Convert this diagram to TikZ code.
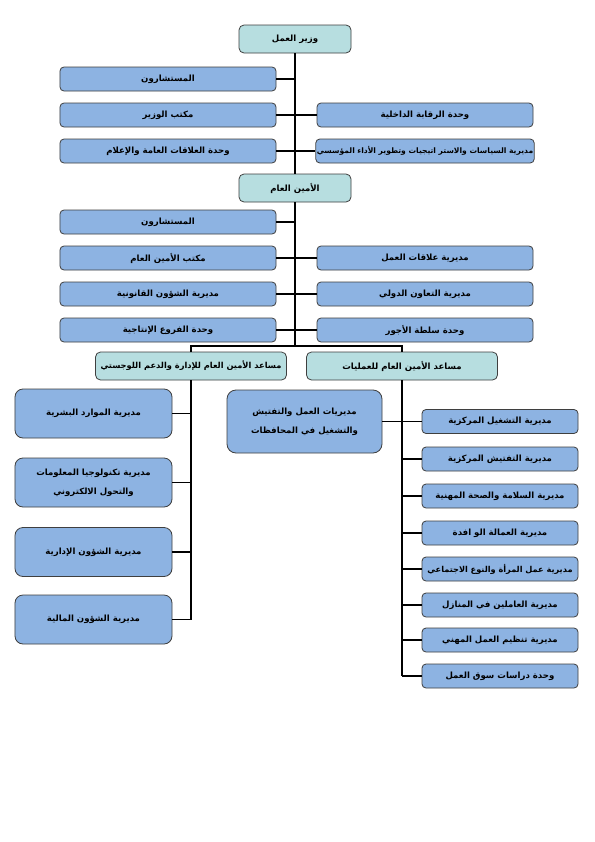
\documentclass[tikz,border=0pt]{standalone}
\usepackage{fontspec}
\newfontfamily\arabicfont[Script=Arabic]{DejaVu Sans}
\TeXXeTstate=1
\newcommand{\AR}[1]{\beginR #1\endR}
\definecolor{tealfill}{HTML}{B7DEE0}
\definecolor{bluefill}{HTML}{8DB3E2}
\definecolor{edgegray}{HTML}{3F3F3F}
\tikzset{
  basebox/.style={draw=edgegray, line width=0.8bp, inner sep=1bp, align=center,
    font=\arabicfont\bfseries\fontsize{8.6}{19}\selectfont},
  headbox/.style={basebox, fill=tealfill, rounded corners=5bp, minimum width=112bp, minimum height=28bp},
  asbox/.style={basebox, fill=tealfill, rounded corners=5bp, minimum width=191bp, minimum height=28bp},
  unitbox/.style={basebox, fill=bluefill, rounded corners=4bp, minimum width=216bp, minimum height=24bp},
  smallbox/.style={basebox, fill=bluefill, rounded corners=4bp, minimum width=156bp, minimum height=24bp},
  tallbox/.style={basebox, fill=bluefill, rounded corners=8bp, minimum width=157bp, minimum height=49bp},
  link/.style={draw=black, line width=1.6bp}
}
\begin{document}
\begin{tikzpicture}[x=1bp,y=-1bp]
\useasboundingbox (0,0) rectangle (595,842);
\fill[white] (0,0) rectangle (595,842);

% minister section
\node[headbox] (wazir) at (295,39) {\AR{وزير العمل}};
\node[unitbox] (l1) at (168,79) {\AR{المستشارون}};
\node[unitbox] (l2) at (168,115) {\AR{مكتب الوزير}};
\node[unitbox] (l3) at (168,151) {\AR{وحدة العلاقات العامة والإعلام}};
\node[unitbox] (r2) at (425,115) {\AR{وحدة الرقابة الداخلية}};
\node[unitbox, font=\arabicfont\bfseries\fontsize{7.6}{9}\selectfont] (r3) at (425,151) {\AR{مديرية السياسات والاستر اتيجيات وتطوير الأداء المؤسسي}};
\node[headbox] (amin) at (295,188) {\AR{الأمين العام}};

\draw[link] (wazir.south) -- (amin.north);
\draw[link] (l1.east) -- (l1.east -| wazir.south);
\draw[link] (l2.east) -- (r2.west);
\draw[link] (l3.east) -- (r3.west);

% secretary general section
\node[unitbox] (m1) at (168,222) {\AR{المستشارون}};
\node[unitbox] (m2) at (168,258) {\AR{مكتب الأمين العام}};
\node[unitbox] (m3) at (168,294) {\AR{مديرية الشؤون القانونية}};
\node[unitbox] (m4) at (168,330) {\AR{وحدة الفروع الإنتاجية}};
\node[unitbox] (n2) at (425,258) {\AR{مديرية علاقات العمل}};
\node[unitbox] (n3) at (425,294) {\AR{مديرية التعاون الدولي}};
\node[unitbox] (n4) at (425,330) {\AR{وحدة سلطة الأجور}};
\coordinate (bar) at (295,346);

\draw[link] (amin.south) -- (bar);
\draw[link] (m1.east) -- (m1.east -| amin.south);
\draw[link] (m2.east) -- (n2.west);
\draw[link] (m3.east) -- (n3.west);
\draw[link] (m4.east) -- (n4.west);

% assistants
\node[asbox, font=\arabicfont\bfseries\fontsize{8.3}{19}\selectfont] (asA) at (191,366) {\AR{مساعد الأمين العام للإدارة والدعم اللوجستي}};
\node[asbox] (asB) at (402,366) {\AR{مساعد الأمين العام للعمليات}};
\draw[link] (asA.north) |- (bar) -| (asB.north);

% admin column
\node[tallbox] (a1) at (93.5,413.5) {\AR{مديرية الموارد البشرية}};
\node[tallbox] (a2) at (93.5,482.5) {\AR{مديرية تكنولوجيا المعلومات}\\\AR{والتحول الالكتروني}};
\node[tallbox] (a3) at (93.5,552) {\AR{مديرية الشؤون الإدارية}};
\node[tallbox] (a4) at (93.5,619.5) {\AR{مديرية الشؤون المالية}};
\draw[link] (asA.south) -- (asA.south |- a4.east);
\foreach \n in {a1,a2,a3,a4} \draw[link] (\n.east) -- (\n.east -| asA.south);

% operations column
\node[basebox, fill=bluefill, rounded corners=9bp, minimum width=155bp, minimum height=63bp] (mid) at (304.5,421.5) {\AR{مديريات العمل والتفتيش}\\\AR{والتشغيل في المحافظات}};
\node[smallbox] (o1) at (500,421.5) {\AR{مديرية التشغيل المركزية}};
\node[smallbox] (o2) at (500,459) {\AR{مديرية التفتيش المركزية}};
\node[smallbox] (o3) at (500,496) {\AR{مديرية السلامة والصحة المهنية}};
\node[smallbox] (o4) at (500,533) {\AR{مديرية العمالة الو افدة}};
\node[smallbox, font=\arabicfont\bfseries\fontsize{8.2}{19}\selectfont] (o5) at (500,569) {\AR{مديرية عمل المرأة والنوع الاجتماعي}};
\node[smallbox] (o6) at (500,605) {\AR{مديرية العاملين في المنازل}};
\node[smallbox] (o7) at (500,640) {\AR{مديرية تنظيم العمل المهني}};
\node[smallbox] (o8) at (500,676) {\AR{وحدة دراسات سوق العمل}};
\draw[link] (asB.south) -- (asB.south |- o8.west);
\draw[link] (mid.east) -- (o1.west);
\foreach \n in {o2,o3,o4,o5,o6,o7,o8} \draw[link] (\n.west) -- (\n.west -| asB.south);
\end{tikzpicture}
\end{document}
